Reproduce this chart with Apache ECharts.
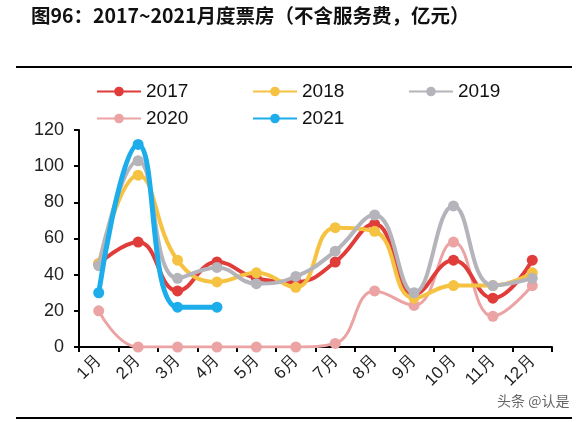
<!DOCTYPE html>
<html>
<head>
<meta charset="utf-8">
<script src="https://cdn.jsdelivr.net/npm/echarts@6/dist/echarts.min.js"></script>
<style>
  html, body { margin: 0; padding: 0; background: #fff; }
  #chart { width: 588px; height: 422px; }
</style>
</head>
<body>
<div id="chart"></div>
<script>
// 月度票房数据（亿元）
var months = ['1月', '2月', '3月', '4月', '5月', '6月', '7月', '8月', '9月', '10月', '11月', '12月'];
var y2017 = [46, 58, 31, 47, 38, 36, 47, 68, 29, 48, 27, 48];
var y2018 = [46, 95, 48, 36, 41, 33, 66, 64, 27, 34, 34, 41];
var y2019 = [45, 103, 38, 44, 35, 39, 53, 73, 30, 78, 34, 38];
var y2020 = [20, 0, 0, 0, 0, 0, 2, 31, 23, 58, 17, 34];
var y2021 = [30, 112, 22, 22];
var yTicks = [0, 20, 40, 60, 80, 100, 120];

var FONT = 'Liberation Sans, Arial, sans-serif';

function line(name, data, color, width, z) {
  return {
    name: name,
    type: 'line',
    data: data,
    smooth: 0.45,
    symbol: 'circle',
    symbolSize: 11,
    z: z,
    itemStyle: { color: color },
    lineStyle: { color: color, width: width },
    emphasis: { disabled: true }
  };
}

function legendAt(name, left, top) {
  return {
    data: [name],
    left: left,
    top: top,
    padding: 0,
    itemWidth: 44,
    itemHeight: 12,
    itemGap: 4,
    textStyle: { fontSize: 19, color: '#111', fontFamily: FONT },
    selectedMode: false
  };
}

var chart = echarts.init(document.getElementById('chart'));
chart.setOption({
  animation: false,
  backgroundColor: '#fff',
  title: {
    text: '图96：2017~2021月度票房（不含服务费，亿元）',
    left: 26,
    top: 1,
    textStyle: {
      fontSize: 19.5,
      fontWeight: 'bold',
      color: '#111',
      fontFamily: 'Noto Sans CJK SC'
    }
  },
  legend: [
    legendAt('2017', 96, 82),
    legendAt('2018', 252, 82),
    legendAt('2019', 408, 82),
    legendAt('2020', 96, 109),
    legendAt('2021', 252, 109)
  ],
  grid: { left: 79, right: 36, top: 130, bottom: 75 },
  xAxis: {
    type: 'category',
    data: months,
    boundaryGap: true,
    axisLine: { lineStyle: { color: '#000', width: 2 } },
    axisTick: { show: true, length: 5, lineStyle: { color: '#000', width: 2 } },
    axisLabel: {
      rotate: 45,
      fontSize: 17,
      color: '#222',
      fontFamily: FONT,
      margin: 11,
      interval: 0
    }
  },
  yAxis: {
    type: 'value',
    min: yTicks[0],
    max: yTicks[yTicks.length - 1],
    interval: 20,
    axisLine: { show: true, lineStyle: { color: '#000', width: 2 } },
    axisTick: { show: true, length: 5, lineStyle: { color: '#000', width: 2 } },
    splitLine: { show: false },
    axisLabel: { fontSize: 18, color: '#222', fontFamily: FONT, margin: 15 }
  },
  series: [
    line('2020', y2020, '#eba3a3', 3, 2),
    line('2017', y2017, '#e03c3a', 4, 3),
    line('2018', y2018, '#f5c242', 4, 4),
    line('2019', y2019, '#b4b4ba', 4, 5),
    line('2021', y2021, '#1cadea', 5, 6)
  ],
  graphic: [
    { type: 'line', shape: { x1: 16, y1: 67, x2: 572, y2: 67 }, style: { stroke: '#000', lineWidth: 2 } },
    { type: 'line', shape: { x1: 16, y1: 418, x2: 572, y2: 418 }, style: { stroke: '#000', lineWidth: 2 } },
    {
      type: 'text',
      left: 497,
      top: 394,
      style: { text: '头条 @认是', fill: '#666', fontSize: 14, fontFamily: 'Noto Sans CJK SC' }
    }
  ]
});
</script>
</body>
</html>
